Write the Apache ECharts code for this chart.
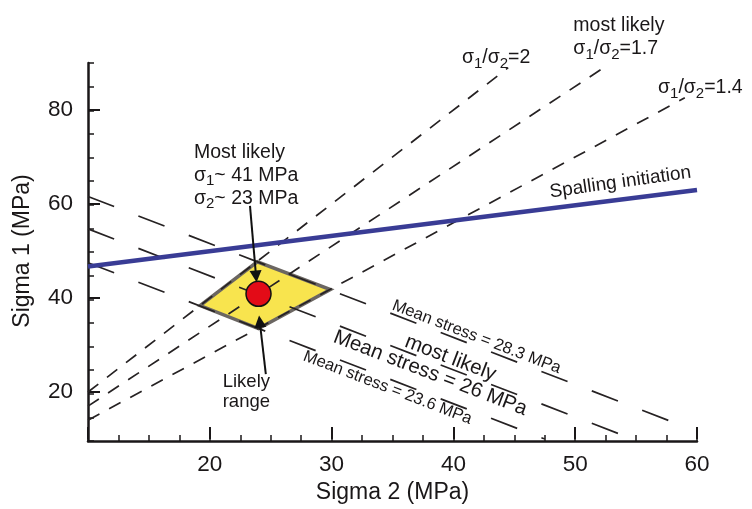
<!DOCTYPE html>
<html>
<head>
<meta charset="utf-8">
<script src="https://cdn.jsdelivr.net/npm/echarts@6/dist/echarts.min.js"></script>
<style>
    html, body { margin: 0; padding: 0; background: #fff; }
    #main { width: 752px; height: 509px; }
</style>
</head>
<body>
<div id="main"></div>
<script>
// values, points are [sigma2, sigma1] in MPa
var xTicks = [20, 30, 40, 50, 60];
var yTicks = [20, 40, 60, 80];

var spalling = [[10, 46.7], [60, 63]];
var ratio2 = [[10, 20], [44.5, 89]];
var ratio17 = [[10, 17], [52.7, 89.6]];
var ratio14 = [[10, 14], [59, 82.6]];
var mean283 = [[10, 61.6], [58.3, 13.3]];
var mean26 = [[10, 54.7], [54.7, 10]];
var mean236 = [[10, 47.5], [47.5, 10]];
var likelyRange = [[19.2, 38.4], [23.9, 47.7], [29.9, 41.8], [24.0, 33.5]];
var mostLikely = [24.0, 40.9];

var ink = '#1a1718';
var font = '"Liberation Sans", Arial, sans-serif';
var subRich = {
    s: { fontSize: 15, lineHeight: 11, padding: [12, 0, 0, 0], color: ink, fontFamily: font }
};

function dashed(data, dash) {
    return {
        type: 'line', xAxisIndex: 1, yAxisIndex: 1, data: data,
        symbol: 'none', silent: true, z: 3, animation: false,
        lineStyle: { color: '#262223', width: 1.7, type: dash }
    };
}

function note(x, y, text, opts) {
    var label = {
        show: true, position: 'inside', formatter: text, color: ink, opacity: 1,
        fontFamily: font, fontSize: 19.5, lineHeight: 23, rich: subRich
    };
    for (var k in opts) label[k] = opts[k];
    return { value: [x, y], label: label };
}

var myChart = echarts.init(document.getElementById('main'));
myChart.setOption({
    animation: false,
    grid: [
        { left: 88, right: 55, top: 63, bottom: 68 },
        { left: 88, right: 55, top: 63, bottom: 68 }
    ],
    xAxis: [{
        gridIndex: 0, type: 'value', min: 10, max: 60, interval: 2.5,
        axisLine: { show: true, onZero: false, lineStyle: { color: ink, width: 2.5 } },
        axisTick: { show: true, inside: true, length: 6, lineStyle: { color: ink, width: 1.5 } },
        axisLabel: { show: false },
        splitLine: { show: false }
    }, {
        gridIndex: 1, type: 'value', min: 10, max: 60, interval: 10,
        axisLine: { show: false, onZero: false },
        axisTick: { show: true, inside: true, length: 12, lineStyle: { color: ink, width: 2 } },
        axisLabel: {
            formatter: function (v) { return xTicks.indexOf(v) >= 0 ? v : ''; },
            fontSize: 22.5, margin: 14, color: ink, fontFamily: font
        },
        splitLine: { show: false },
        name: 'Sigma 2 (MPa)', nameLocation: 'middle', nameGap: 42,
        nameTextStyle: { fontSize: 23, color: ink, fontFamily: font }
    }],
    yAxis: [{
        gridIndex: 0, type: 'value', min: 10, max: 90, interval: 5,
        axisLine: { show: true, onZero: false, lineStyle: { color: ink, width: 2.5 } },
        axisTick: { show: true, inside: true, length: 6, lineStyle: { color: ink, width: 1.5 } },
        axisLabel: { show: false },
        splitLine: { show: false }
    }, {
        gridIndex: 1, type: 'value', min: 10, max: 90, interval: 10,
        axisLine: { show: false, onZero: false },
        axisTick: { show: true, inside: true, length: 12, customValues: yTicks, lineStyle: { color: ink, width: 2 } },
        axisLabel: {
            customValues: yTicks,
            formatter: function (v) { return yTicks.indexOf(v) >= 0 ? v : ''; },
            fontSize: 22.5, margin: 15, color: ink, fontFamily: font
        },
        splitLine: { show: false },
        name: 'Sigma 1 (MPa)', nameLocation: 'middle', nameGap: 54,
        nameTextStyle: { fontSize: 23, color: ink, fontFamily: font }
    }],
    series: [
        {
            type: 'custom', xAxisIndex: 1, yAxisIndex: 1, data: [mostLikely], z: 2, silent: true,
            renderItem: function (params, api) {
                return {
                    type: 'polygon',
                    shape: { points: likelyRange.map(function (p) { return api.coord(p); }) },
                    style: { fill: '#f8e44e', stroke: '#6b6662', lineWidth: 3.5 }
                };
            }
        },
        dashed(ratio2, [13, 11]),
        dashed(ratio17, [13, 11]),
        dashed(ratio14, [13, 11]),
        dashed(mean283, [28, 26]),
        dashed(mean26, [28, 26]),
        dashed(mean236, [28, 26]),
        {
            type: 'line', xAxisIndex: 1, yAxisIndex: 1, data: spalling, symbol: 'none', z: 4, silent: true,
            lineStyle: { color: '#393c95', width: 4.5 }
        },
        {
            type: 'scatter', xAxisIndex: 1, yAxisIndex: 1, data: [mostLikely], symbolSize: 25, z: 6, silent: true,
            itemStyle: { color: '#e30b17', borderColor: '#111', borderWidth: 1.5, opacity: 1 },
            markLine: {
                silent: true, animation: false, symbol: ['none', 'triangle'], symbolSize: 12,
                label: { show: false },
                lineStyle: { color: '#111', width: 2, type: 'solid', opacity: 1 },
                data: [
                    [{ coord: [23.3, 59.6] }, { coord: [23.8, 44.6] }],
                    [{ coord: [24.6, 23.8] }, { coord: [24.1, 35] }]
                ]
            }
        },
        {
            type: 'scatter', xAxisIndex: 1, yAxisIndex: 1, symbolSize: 1, clip: false, z: 7, silent: true,
            itemStyle: { color: 'rgba(0,0,0,0)', opacity: 1 },
            data: [
                note(41.9, 31.7, 'Mean stress = 28.3 MPa', { fontSize: 16.5, rotate: -21 }),
                note(39.75, 27.2, 'most likely', { fontSize: 20.5, rotate: -21 }),
                note(38.1, 24.0, 'Mean stress = 26 MPa', { fontSize: 20.5, rotate: -21 }),
                note(34.6, 20.9, 'Mean stress = 23.6 MPa', { fontSize: 16.5, rotate: -21 }),
                note(53.7, 64.6, 'Spalling initiation', { fontSize: 19, rotate: 8 }),
                note(23.0, 20.0, 'Likely\nrange', { fontSize: 18.5, lineHeight: 20 }),
                note(18.7, 66.1, 'Most likely\n\u03c3{s|1}~ 41 MPa\n\u03c3{s|2}~ 23 MPa', { align: 'left' }),
                note(40.7, 91.1, '\u03c3{s|1}/\u03c3{s|2}=2', { align: 'left' }),
                note(49.85, 95.4, 'most likely\n\u03c3{s|1}/\u03c3{s|2}=1.7', { align: 'left' }),
                note(56.8, 84.8, '\u03c3{s|1}/\u03c3{s|2}=1.4', { align: 'left' })
            ]
        }
    ]
});
</script>
</body>
</html>
